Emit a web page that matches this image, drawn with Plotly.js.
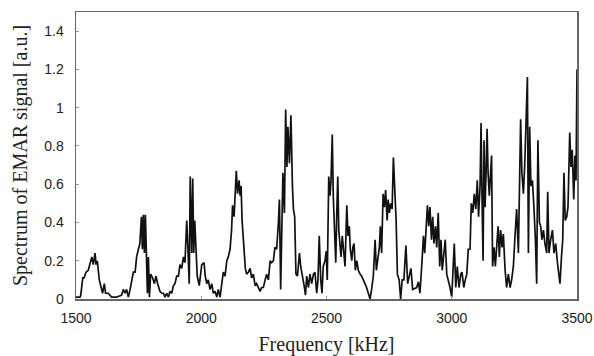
<!DOCTYPE html>
<html>
<head>
<meta charset="utf-8">
<script src="https://cdn.plot.ly/plotly-3.0.1.min.js"></script>
<style>html,body{margin:0;padding:0;background:#fff;}#chart{width:594px;height:356px;}</style>
</head>
<body>
<div id="chart"></div>
<script>
const freqKHz = [
1500,1503,1516,1519,1527,1532,1540,1549,1556,1563,1569,1576,1580,1585,1593,1601,1606,1613,1618,1629,
1642,1662,1682,1689,1696,1702,1709,1716,1722,1729,1736,1742,1749,1755,1761,1765,1769,1773,1777,1781,
1785,1789,1793,1798,1806,1813,1819,1826,1835,1842,1849,1855,1862,1869,1875,1882,1889,1895,1902,1909,
1915,1922,1929,1935,1942,1947,1952,1956,1962,1966,1970,1974,1979,1984,1992,2002,2011,2016,2022,2028,
2035,2042,2048,2055,2062,2068,2075,2082,2088,2095,2102,2108,2115,2121,2125,2131,2136,2140,2145,2151,
2155,2159,2163,2168,2172,2176,2181,2188,2195,2201,2208,
2215,2221,2228,2235,2241,2248,2255,2261,2268,2275,2281,2288,2294,2301,2308,2312,2317,2322,2326,2332,
2337,2342,2346,2352,2358,2364,2368,2373,2378,2384,2392,2397,2405,2412,2416,2421,2428,2434,2441,2448,
2454,2461,2466,2471,2477,2482,2487,2494,2499,2503,2509,2514,2518,2523,2527,2533,2537,2541,2545,2549,
2554,2558,2563,2569,2574,2581,2586,2591,2595,2601,2605,2610,2615,2621,2627,2634,2640,2647,2654,2660,
2667,2674,2680,2687,2694,2699,2704,2711,2715,2720,2726,2731,2736,2742,2746,2751,2756,2762,2767,2772,
2778,2783,2790,2796,2802,2809,2817,2824,2831,2837,2844,
2860,2867,2873,2880,2887,2892,2897,2903,2908,2913,2919,2924,2929,2935,2940,2946,2952,2957,2962,2968,
2974,2980,2986,2993,3000,3005,3010,3016,3022,3029,3036,3041,3048,3054,3060,3066,3073,3078,3084,3090,
3096,3102,3107,3113,3117,3121,3125,3129,3133,3137,3141,3145,3150,3155,3159,3163,3169,3174,3179,3185,
3190,3195,3201,3206,3213,3219,3226,3233,3239,3246,3253,3259,3266,3270,3275,3280,3286,3291,3296,3302,
3306,3311,3316,3322,3328,3334,3339,3344,3350,3355,3360,3366,3372,3379,3383,3388,3395,3402,3408,3415,
3422,3427,3432,3438,3443,3448,3453,3459,3464,3471,3476,3481,3487,3492,3496,3500
];
const spectrum = [
0.01,0.01,0.01,0.02,0.11,0.11,0.14,0.15,0.18,0.22,0.18,0.24,0.18,0.20,0.10,0.05,0.03,0.08,0.03,0.03,
0.01,0.01,0.02,0.05,0.03,0.05,0.01,0.05,0.10,0.14,0.14,0.22,0.26,0.29,0.43,0.26,0.44,0.24,0.44,0.22,
0.03,0.22,0.01,0.13,0.11,0.08,0.12,0.08,0.04,0.03,0.03,0.01,0.03,0.01,0.04,0.03,0.07,0.08,0.12,0.12,
0.18,0.16,0.22,0.19,0.41,0.26,0.08,0.64,0.24,0.63,0.24,0.41,0.26,0.12,0.07,0.18,0.19,0.12,0.08,0.10,
0.05,0.08,0.03,0.04,0.01,0.05,0.01,0.07,0.14,0.12,0.20,0.22,0.26,0.36,0.49,0.43,0.57,0.67,0.55,0.62,
0.54,0.59,0.41,0.33,0.26,0.16,0.13,0.14,0.16,0.11,0.13,
0.07,0.08,0.06,0.04,0.06,0.06,0.10,0.13,0.10,0.20,0.19,0.20,0.27,0.26,0.40,0.52,0.05,0.50,0.66,0.45,
0.99,0.69,0.90,0.71,0.96,0.59,0.47,0.43,0.13,0.12,0.24,0.17,0.12,0.06,0.02,0.12,0.06,0.13,0.08,0.13,
0.14,0.03,0.10,0.33,0.10,0.03,0.17,0.20,0.25,0.10,0.64,0.54,0.62,0.86,0.54,0.27,0.19,0.45,0.64,0.36,
0.27,0.22,0.33,0.24,0.17,0.49,0.33,0.38,0.26,0.20,0.27,0.29,0.15,0.20,0.15,0.13,0.12,0.10,0.08,0.06,
0.03,0.00,0.05,0.12,0.31,0.15,0.20,0.27,0.38,0.24,0.55,0.48,0.57,0.41,0.52,0.45,0.50,0.47,0.74,0.62,
0.41,0.13,0.10,0.00,0.10,0.10,0.28,0.08,0.12,0.16,0.05,
0.06,0.09,0.03,0.17,0.33,0.24,0.38,0.49,0.38,0.48,0.31,0.43,0.29,0.38,0.27,0.45,0.17,0.31,0.15,0.22,
0.31,0.13,0.10,0.06,0.01,0.20,0.29,0.06,0.17,0.06,0.13,0.14,0.06,0.10,0.13,0.26,0.26,0.50,0.45,0.55,
0.47,0.62,0.43,0.59,0.92,0.52,0.20,0.83,0.48,0.66,0.89,0.66,0.54,0.66,0.75,0.17,0.27,0.17,0.27,0.38,
0.22,0.36,0.27,0.34,0.15,0.06,0.13,0.06,0.10,0.17,0.34,0.47,0.24,0.57,0.94,0.66,0.55,0.69,0.89,1.16,
0.24,0.90,0.59,0.62,0.48,0.31,0.08,0.83,0.40,0.38,0.31,0.36,0.29,0.24,0.56,0.24,0.31,0.36,0.24,0.29,
0.19,0.13,0.08,0.22,0.31,0.66,0.41,0.43,0.48,0.87,0.69,0.78,0.52,0.75,0.62,1.20
];
const xTicks = [1500, 2000, 2500, 3000, 3500];
const yTicks = [0, 0.2, 0.4, 0.6, 0.8, 1, 1.2, 1.4];

const trace = {
  x: freqKHz, y: spectrum, type: 'scatter', mode: 'lines',
  line: {color: '#111', width: 1.7}, hoverinfo: 'none'
};
const tickFont = {family: '"Liberation Sans", Arial, sans-serif', size: 14, color: '#222'};
const titleFont = {family: '"Liberation Serif", "Times New Roman", serif', size: 20, color: '#222'};
const layout = {
  width: 594, height: 356,
  margin: {l: 76, r: 17, t: 12, b: 57},
  paper_bgcolor: '#fff', plot_bgcolor: '#fff',
  showlegend: false,
  xaxis: {
    range: [1500, 3500], tickvals: xTicks, ticktext: xTicks.map(String),
    showgrid: false, zeroline: false,
    showline: true, mirror: true, linecolor: '#666', linewidth: 1.5,
    ticks: 'inside', ticklen: 3, tickcolor: '#999',
    tickfont: tickFont, ticklabelstandoff: 6,
    title: {text: 'Frequency [kHz]', font: titleFont, standoff: 11}
  },
  yaxis: {
    range: [0, 1.5], tickvals: yTicks, ticktext: yTicks.map(String),
    showgrid: false, zeroline: false,
    showline: true, mirror: true, linecolor: '#666', linewidth: 1.5,
    ticks: 'inside', ticklen: 3, tickcolor: '#999',
    tickfont: tickFont, ticklabelstandoff: 8,
    title: {text: 'Spectrum of EMAR signal [a.u.]', font: titleFont, standoff: 11}
  }
};
Plotly.newPlot('chart', [trace], layout, {staticPlot: true, displayModeBar: false});
</script>
</body>
</html>
